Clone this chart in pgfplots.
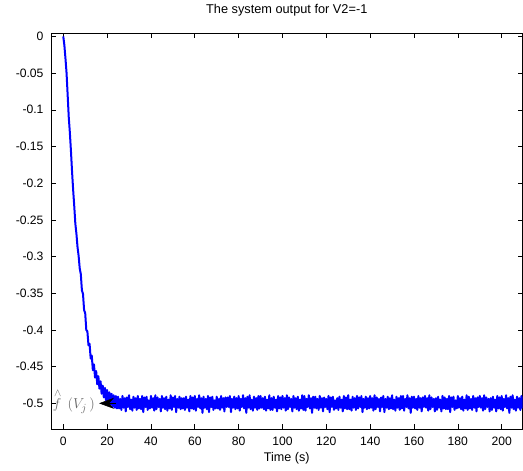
\documentclass[border=0pt]{standalone}
\usepackage{pgfplots}
\pgfplotsset{compat=1.18}
\usepackage{fontspec}
\setmainfont{Liberation Sans}
\usetikzlibrary{arrows.meta}
\begin{document}
\begin{tikzpicture}
\begin{axis}[
  scale only axis, width=471.5bp, height=395.5bp,
  xmin=-5.6, xmax=209.5, ymin=-0.535, ymax=0.004,
  axis line style={line width=0.8bp},
  tick style={black, line width=0.6bp},
  tick align=inside, major tick length=5bp,
  xtick={0,20,40,60,80,100,120,140,160,180,200},
  xticklabels={0,20,40,60,80,100,120,140,160,180,200},
  ytick={-0.5,-0.45,-0.4,-0.35,-0.3,-0.25,-0.2,-0.15,-0.1,-0.05,0},
  yticklabels={-0.5,-0.45,-0.4,-0.35,-0.3,-0.25,-0.2,-0.15,-0.1,-0.05,0},
  ticklabel style={font=\fontsize{12.2}{14}\selectfont},
  xticklabel style={yshift=-4bp},
  yticklabel style={xshift=-4bp},
  title={The system output for V2=-1},
  title style={font=\fontsize{12.8}{14}\selectfont, yshift=8bp},
  xlabel={Time (s)},
  xlabel style={font=\fontsize{12.6}{14}\selectfont},
  clip=true,
]
\coordinate (SW) at (rel axis cs:0,0);
\coordinate (NE) at (rel axis cs:1,1);
\draw[black, line width=0.6bp] (axis cs:40,-0.5) -- (axis cs:22,-0.5);
\addplot[blue, line width=2bp, line join=round] coordinates {
(0,0)(0.5,-0.012)(1,-0.03)(1.5,-0.05)(2,-0.08)(2.5,-0.11)(3,-0.131)(3.5,-0.156)(4,-0.184)(4.5,-0.209)
(5,-0.231)(5.5,-0.255)(6,-0.269)(6.5,-0.287)(7,-0.299)(7.5,-0.316)
(8,-0.324)(8.5,-0.346)(9,-0.351)(9.5,-0.373)(10,-0.377)(10.5,-0.4)(11,-0.402)(11.5,-0.421)(12,-0.419)(12.5,-0.439)
(13,-0.435)(13.5,-0.455)(14,-0.447)(14.5,-0.465)(15,-0.456)(15.5,-0.474)(16,-0.463)(16.5,-0.48)(17,-0.47)(17.5,-0.487)
(18,-0.476)(18.5,-0.492)(19,-0.479)(19.5,-0.496)(20,-0.482)(20.5,-0.499)(21,-0.485)(21.5,-0.502)(22,-0.487)(22.5,-0.505)
(23,-0.489)(23.5,-0.506)(24,-0.49)(24.5,-0.507)
(25,-0.491)(25.5,-0.507)(26,-0.494)(26.5,-0.509)(27,-0.490)(27.5,-0.506)(28,-0.493)(28.5,-0.511)(29,-0.492)(29.5,-0.505)
(30,-0.489)(30.5,-0.508)(31,-0.495)(31.5,-0.510)(32,-0.491)(32.5,-0.506)(33,-0.493)(33.5,-0.509)(34,-0.490)(34.5,-0.507)
(35,-0.494)(35.5,-0.508)(36,-0.490)(36.5,-0.512)(37,-0.492)(37.5,-0.505)(38,-0.491)(38.5,-0.509)(39,-0.496)(39.5,-0.507)
(40,-0.490)(40.5,-0.506)(41,-0.493)(41.5,-0.510)(42,-0.489)(42.5,-0.508)(43,-0.492)(43.5,-0.505)(44,-0.494)(44.5,-0.511)
(45,-0.490)(45.5,-0.506)(46,-0.493)(46.5,-0.508)(47,-0.491)(47.5,-0.510)(48,-0.495)(48.5,-0.507)(49,-0.489)(49.5,-0.509)
(50,-0.492)(50.5,-0.505)(51,-0.490)(51.5,-0.512)(52,-0.494)(52.5,-0.506)(53,-0.491)(53.5,-0.508)(54,-0.493)(54.5,-0.507)
(55,-0.493)(55.5,-0.509)(56,-0.491)(56.5,-0.506)(57,-0.495)(57.5,-0.511)(58,-0.490)(58.5,-0.507)(59,-0.492)(59.5,-0.508)
(60,-0.490)(60.5,-0.510)(61,-0.494)(61.5,-0.505)(62,-0.489)(62.5,-0.507)(63,-0.493)(63.5,-0.513)(64,-0.491)(64.5,-0.506)
(65,-0.494)(65.5,-0.508)(66,-0.490)(66.5,-0.512)(67,-0.492)(67.5,-0.505)(68,-0.491)(68.5,-0.509)(69,-0.496)(69.5,-0.507)
(70,-0.491)(70.5,-0.507)(71,-0.494)(71.5,-0.509)(72,-0.490)(72.5,-0.506)(73,-0.493)(73.5,-0.511)(74,-0.492)(74.5,-0.505)
(75,-0.492)(75.5,-0.505)(76,-0.490)(76.5,-0.512)(77,-0.494)(77.5,-0.506)(78,-0.491)(78.5,-0.508)(79,-0.493)(79.5,-0.507)
(80,-0.490)(80.5,-0.510)(81,-0.494)(81.5,-0.505)(82,-0.489)(82.5,-0.507)(83,-0.493)(83.5,-0.513)(84,-0.491)(84.5,-0.506)
(85,-0.489)(85.5,-0.508)(86,-0.495)(86.5,-0.510)(87,-0.491)(87.5,-0.506)(88,-0.493)(88.5,-0.509)(89,-0.490)(89.5,-0.507)
(90,-0.490)(90.5,-0.506)(91,-0.493)(91.5,-0.508)(92,-0.491)(92.5,-0.510)(93,-0.495)(93.5,-0.507)(94,-0.489)(94.5,-0.509)
(95,-0.493)(95.5,-0.509)(96,-0.491)(96.5,-0.506)(97,-0.495)(97.5,-0.511)(98,-0.490)(98.5,-0.507)(99,-0.492)(99.5,-0.508)
(100,-0.490)(100.5,-0.506)(101,-0.493)(101.5,-0.510)(102,-0.489)(102.5,-0.508)(103,-0.492)(103.5,-0.505)(104,-0.494)(104.5,-0.511)
(105,-0.490)(105.5,-0.506)(106,-0.493)(106.5,-0.508)(107,-0.491)(107.5,-0.510)(108,-0.495)(108.5,-0.507)(109,-0.489)(109.5,-0.509)
(110,-0.490)(110.5,-0.510)(111,-0.494)(111.5,-0.505)(112,-0.489)(112.5,-0.507)(113,-0.493)(113.5,-0.513)(114,-0.491)(114.5,-0.506)
(115,-0.491)(115.5,-0.507)(116,-0.494)(116.5,-0.509)(117,-0.490)(117.5,-0.506)(118,-0.493)(118.5,-0.511)(119,-0.492)(119.5,-0.505)
(120,-0.494)(120.5,-0.508)(121,-0.490)(121.5,-0.512)(122,-0.492)(122.5,-0.505)(123,-0.491)(123.5,-0.509)(124,-0.496)(124.5,-0.507)
(125,-0.493)(125.5,-0.509)(126,-0.491)(126.5,-0.506)(127,-0.495)(127.5,-0.511)(128,-0.490)(128.5,-0.507)(129,-0.492)(129.5,-0.508)
(130,-0.489)(130.5,-0.508)(131,-0.495)(131.5,-0.510)(132,-0.491)(132.5,-0.506)(133,-0.493)(133.5,-0.509)(134,-0.490)(134.5,-0.507)
(135,-0.492)(135.5,-0.505)(136,-0.490)(136.5,-0.512)(137,-0.494)(137.5,-0.506)(138,-0.491)(138.5,-0.508)(139,-0.493)(139.5,-0.507)
(140,-0.490)(140.5,-0.506)(141,-0.493)(141.5,-0.510)(142,-0.489)(142.5,-0.508)(143,-0.492)(143.5,-0.505)(144,-0.494)(144.5,-0.511)
(145,-0.492)(145.5,-0.505)(146,-0.490)(146.5,-0.512)(147,-0.494)(147.5,-0.506)(148,-0.491)(148.5,-0.508)(149,-0.493)(149.5,-0.507)
(150,-0.489)(150.5,-0.508)(151,-0.495)(151.5,-0.510)(152,-0.491)(152.5,-0.506)(153,-0.493)(153.5,-0.509)(154,-0.490)(154.5,-0.507)
(155,-0.490)(155.5,-0.510)(156,-0.494)(156.5,-0.505)(157,-0.489)(157.5,-0.507)(158,-0.493)(158.5,-0.513)(159,-0.491)(159.5,-0.506)
(160,-0.491)(160.5,-0.507)(161,-0.494)(161.5,-0.509)(162,-0.490)(162.5,-0.506)(163,-0.493)(163.5,-0.511)(164,-0.492)(164.5,-0.505)
(165,-0.490)(165.5,-0.506)(166,-0.493)(166.5,-0.510)(167,-0.489)(167.5,-0.508)(168,-0.492)(168.5,-0.505)(169,-0.494)(169.5,-0.511)
(170,-0.493)(170.5,-0.509)(171,-0.491)(171.5,-0.506)(172,-0.495)(172.5,-0.511)(173,-0.490)(173.5,-0.507)(174,-0.492)(174.5,-0.508)
(175,-0.494)(175.5,-0.508)(176,-0.490)(176.5,-0.512)(177,-0.492)(177.5,-0.505)(178,-0.491)(178.5,-0.509)(179,-0.496)(179.5,-0.507)
(180,-0.490)(180.5,-0.506)(181,-0.493)(181.5,-0.508)(182,-0.491)(182.5,-0.510)(183,-0.495)(183.5,-0.507)(184,-0.489)(184.5,-0.509)
(185,-0.491)(185.5,-0.507)(186,-0.494)(186.5,-0.509)(187,-0.490)(187.5,-0.506)(188,-0.493)(188.5,-0.511)(189,-0.492)(189.5,-0.505)
(190,-0.490)(190.5,-0.506)(191,-0.493)(191.5,-0.510)(192,-0.489)(192.5,-0.508)(193,-0.492)(193.5,-0.505)(194,-0.494)(194.5,-0.511)
(195,-0.493)(195.5,-0.509)(196,-0.491)(196.5,-0.506)(197,-0.495)(197.5,-0.511)(198,-0.490)(198.5,-0.507)(199,-0.492)(199.5,-0.508)
(200,-0.490)(200.5,-0.510)(201,-0.494)(201.5,-0.505)(202,-0.489)(202.5,-0.507)(203,-0.493)(203.5,-0.513)(204,-0.491)(204.5,-0.506)
(205,-0.489)(205.5,-0.508)(206,-0.495)(206.5,-0.510)(207,-0.491)(207.5,-0.506)(208,-0.493)(208.5,-0.509)(209,-0.490)(209.5,-0.507)
};
\draw[black, line width=0.6bp, -{Stealth[length=15bp,width=11bp]}] (axis cs:24,-0.5) -- (axis cs:16.3,-0.5);
\node[text=black!60, font=\fontsize{15.5}{17}\selectfont, inner sep=0pt] at (axis cs:4.8,-0.4975) {$\stackrel{\wedge}{f}\,(V_j\,)$};
\end{axis}
\pgfresetboundingbox
\path ([xshift=-51bp,yshift=-42bp]SW) rectangle ([xshift=0.5bp,yshift=33.5bp]NE);
\end{tikzpicture}
\end{document}
